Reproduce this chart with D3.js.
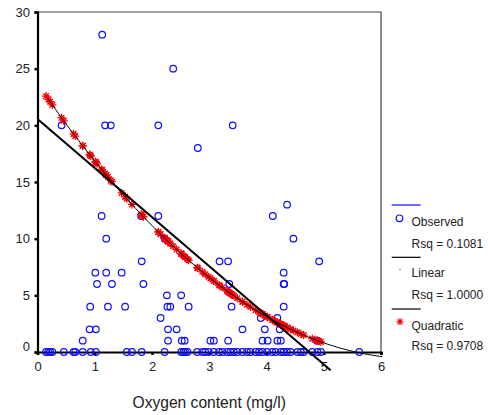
<!DOCTYPE html>
<html lang="en">
<head>
  <meta charset="UTF-8">
  <title>Oxygen content</title>
  <script src="https://cdn.jsdelivr.net/npm/d3@7.9.0/dist/d3.min.js"></script>
  <style>
    html, body { margin: 0; padding: 0; background: #fff; }
    svg { display: block; font-family: "Liberation Sans", Arial, sans-serif; }
  </style>
</head>
<body>
  <div id="chart"></div>

  <script>
    // observed points, grouped by y value (x values)
    const obsY = [0, 1, 2, 3, 4, 5, 6, 7, 8, 10, 12, 13, 18, 20, 25, 28];
    const obsX = [
      [0.15, 0.19, 0.22, 0.26, 0.46, 0.63, 0.66, 0.79, 0.93, 1.02, 1.56, 1.65, 1.82, 2.22,
       2.51, 2.55, 2.58, 2.62, 2.79, 2.88, 2.93, 2.99, 3.08, 3.17, 3.23, 3.31, 3.37, 3.43,
       3.49, 3.58, 3.66, 3.72, 3.81, 3.87, 3.93, 4.01, 4.10, 4.16, 4.25, 4.30, 4.36, 4.42,
       4.54, 4.60, 4.65, 4.80, 4.89, 4.95, 5.62],
      [0.79, 2.28, 2.52, 2.57, 3.02, 3.08, 3.33, 3.93, 4.02, 4.19, 4.25, 4.88],
      [0.91, 1.02, 2.28, 2.43, 3.58, 3.97, 4.23],
      [2.15, 3.90, 4.19],
      [0.92, 1.23, 1.53, 2.27, 2.32, 2.64, 3.39, 4.30],
      [2.26, 2.51],
      [1.04, 1.30, 1.85, 3.35, 4.30, 4.31],
      [1.01, 1.20, 1.47, 4.30],
      [1.82, 3.18, 3.33, 4.92],
      [1.20, 2.22, 4.47],
      [1.12, 1.81, 2.11, 4.11],
      [4.36],
      [2.80],
      [0.42, 1.18, 1.28, 2.11, 3.41],
      [2.37],
      [1.13]
    ];

    // fitted models (coefficients)
    const linearCoef = [20.56, -4.33];
    const quadCoef = [23.68, -7.39, 0.563];
    const linearRange = [0, 5.12];
    const quadRange = [0.17, 6.05];

    const xTicks = [0, 1, 2, 3, 4, 5, 6];
    const yTicks = [0, 5, 10, 15, 20, 25, 30];
    const legendLabels = ["Observed", "Rsq = 0.1081", "Linear", "Rsq = 1.0000", "Quadratic", "Rsq = 0.9708"];
    const xTitle = "Oxygen content (mg/l)";

    const width = 488, height = 415;
    const svg = d3.select("#chart").append("svg")
      .attr("width", width)
      .attr("height", height);

    const x = d3.scaleLinear().domain([0, 6]).range([37.5, 381]);
    const y = d3.scaleLinear().domain([0, 30]).range([352, 12]);

    const points = obsY.flatMap((v, i) => obsX[i].map(px => ({ x: px, y: v })));
    const fitX = points.filter(d => d.x < 5.2).map(d => d.x);
    const lin = v => linearCoef[0] + linearCoef[1] * v;
    const quad = v => quadCoef[0] + quadCoef[1] * v + quadCoef[2] * v * v;

    // frame (top / right)
    svg.append("path")
      .attr("d", `M${x(0)},${y(30)}H${x(6)}V${y(0)}`)
      .attr("fill", "none")
      .attr("stroke", "#444")
      .attr("stroke-width", 1.2);

    // axes
    const xAxis = svg.append("g")
      .attr("transform", `translate(0,${y(0)})`)
      .call(d3.axisBottom(x).tickValues(xTicks).tickSize(3).tickPadding(6.5).tickFormat(d3.format("d")));
    const yAxis = svg.append("g")
      .attr("transform", `translate(${x(0)},0)`)
      .call(d3.axisLeft(y).tickValues(yTicks).tickSize(3).tickPadding(4.5).tickFormat(d3.format("d")));

    [xAxis, yAxis].forEach(g => {
      g.select(".domain").attr("stroke", "#000").attr("stroke-width", 2.2);
      g.selectAll(".tick line").attr("stroke", "#000").attr("stroke-width", 2.5);
      g.selectAll(".tick text").attr("fill", "#222").style("font-size", "13px")
        .style("font-family", "'Liberation Sans', Arial, sans-serif");
    });
    yAxis.selectAll(".tick text").filter(d => d === 0).attr("dy", "-0.1em");

    // x title
    svg.append("text")
      .attr("x", (x(0) + x(6)) / 2)
      .attr("y", 408)
      .attr("text-anchor", "middle")
      .attr("fill", "#222")
      .style("font-size", "15.6px")
      .text(xTitle);

    // observed
    svg.append("g").selectAll("circle")
      .data(points)
      .join("circle")
      .attr("cx", d => x(d.x))
      .attr("cy", d => y(d.y))
      .attr("r", 3.3)
      .attr("fill", "none")
      .attr("stroke", "#1010ff")
      .attr("stroke-width", 1.2);

    const star = r => {
      const t = r * Math.SQRT1_2;
      return `M0,${-r}V${r}M${-r},0H${r}M${-t},${-t}L${t},${t}M${-t},${t}L${t},${-t}`;
    };

    // quadratic predicted values
    svg.append("g").selectAll("path")
      .data(fitX)
      .join("path")
      .attr("transform", d => `translate(${x(d)},${y(quad(d))})`)
      .attr("d", star(4))
      .attr("stroke", "#ff0000")
      .attr("stroke-width", 1.3)
      .attr("fill", "none");

    // linear predicted values (tiny dots)
    svg.append("g").selectAll("rect")
      .data(fitX)
      .join("rect")
      .attr("x", d => x(d) - 0.5)
      .attr("y", d => y(lin(d)) - 0.5)
      .attr("width", 1)
      .attr("height", 1)
      .attr("fill", "#000");

    // fit lines
    const line = d3.line().x(d => x(d[0])).y(d => y(d[1]));
    svg.append("path")
      .attr("d", line(linearRange.map(v => [v, lin(v)])))
      .attr("fill", "none")
      .attr("stroke", "#000")
      .attr("stroke-width", 2);

    const qx = d3.range(quadRange[0], quadRange[1] + 0.001, 0.05);
    svg.append("path")
      .attr("d", line(qx.map(v => [v, quad(v)])))
      .attr("fill", "none")
      .attr("stroke", "#000")
      .attr("stroke-width", 1);

    // legend
    const lg = svg.append("g");
    const lx0 = 391.7, lx1 = 420.7, tx = 411.5;
    [[205, "#1010ff"], [257.3, "#000"], [309, "#000"]].forEach(([ly, c]) => {
      lg.append("line").attr("x1", lx0).attr("x2", lx1).attr("y1", ly).attr("y2", ly)
        .attr("stroke", c).attr("stroke-width", 1.2);
    });
    lg.append("circle").attr("cx", 399.5).attr("cy", 218.3).attr("r", 3.3)
      .attr("fill", "none").attr("stroke", "#1010ff").attr("stroke-width", 1.2);
    lg.append("rect").attr("x", 399.5).attr("y", 268.8).attr("width", 1).attr("height", 1).attr("fill", "#000");
    lg.append("path").attr("transform", "translate(400,321.7)").attr("d", star(3.6))
      .attr("stroke", "#ff0000").attr("stroke-width", 1.1);

    const labelY = [221.5, 243.5, 273, 295, 325.5, 345.5];
    lg.selectAll("text")
      .data(legendLabels)
      .join("text")
      .attr("x", tx)
      .attr("y", (d, i) => labelY[i])
      .attr("dy", "0.35em")
      .attr("fill", "#222")
      .style("font-size", "12px")
      .text(d => d);
  </script>
</body>
</html>
